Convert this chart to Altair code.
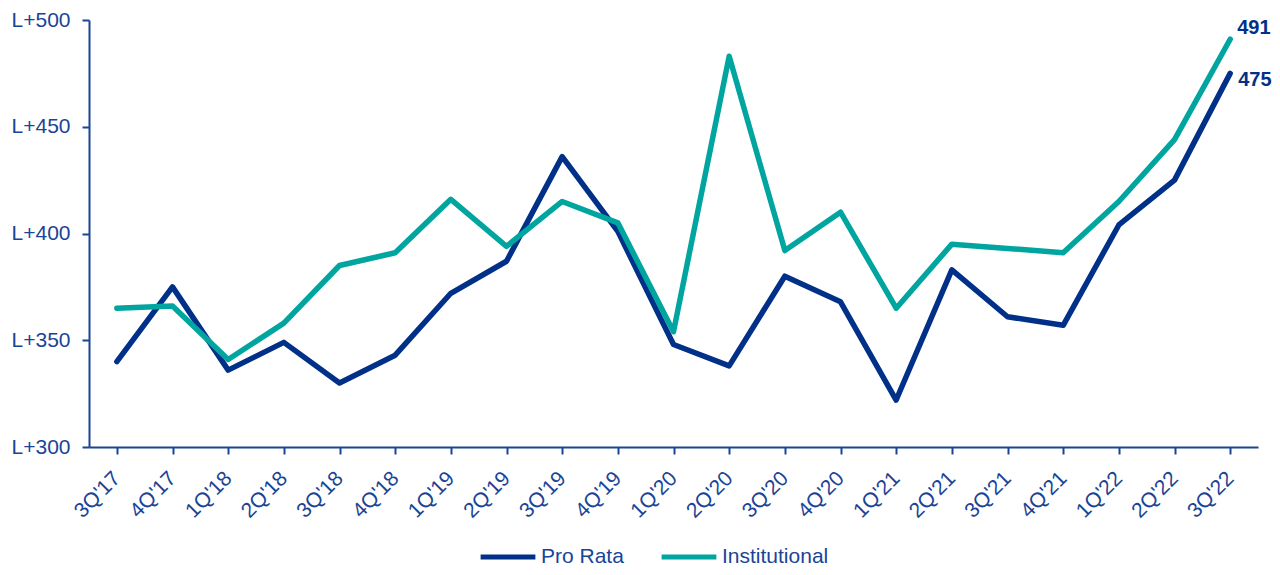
import altair as alt
import pandas as pd

quarters = ["3Q'17", "4Q'17", "1Q'18", "2Q'18", "3Q'18", "4Q'18", "1Q'19", "2Q'19",
            "3Q'19", "4Q'19", "1Q'20", "2Q'20", "3Q'20", "4Q'20", "1Q'21", "2Q'21",
            "3Q'21", "4Q'21", "1Q'22", "2Q'22", "3Q'22"]
pro_rata = [340, 375, 336, 349, 330, 343, 372, 387, 436, 401, 348, 338, 380, 368,
            322, 383, 361, 357, 404, 425, 475]
institutional = [365, 366, 341, 358, 385, 391, 416, 394, 415, 405, 354, 483, 392, 410,
                 365, 395, 393, 391, 415, 444, 491]
series = ["Pro Rata", "Institutional"]
colors = ["#003087", "#00A5A0"]

rows = []
for q, p, i in zip(quarters, pro_rata, institutional):
    rows.append({"q": q, "series": "Pro Rata", "v": p})
    rows.append({"q": q, "series": "Institutional", "v": i})
df = pd.DataFrame(rows)

txt = "#1A4496"
font = "Liberation Sans"

x = alt.X("q:N", sort=quarters, scale=alt.Scale(type="point", padding=0.5),
          axis=alt.Axis(title=None, labelAngle=-45, labelAlign="right", labelBaseline="middle",
                        labelFontSize=21, labelColor=txt, labelFont=font, labelPadding=21,
                        domainColor=txt, domainWidth=2, tickColor=txt, tickWidth=2, tickSize=7,
                        grid=False))
y = alt.Y("v:Q", scale=alt.Scale(domain=[300, 500], nice=False, zero=False),
          axis=alt.Axis(title=None, values=[300, 350, 400, 450, 500],
                        labelExpr="'L+' + datum.value", labelFontSize=21, labelColor=txt,
                        labelFont=font, labelPadding=12, domainColor=txt, domainWidth=2,
                        tickColor=txt, tickWidth=2, tickSize=7, grid=False))

lines = alt.Chart(df).mark_line(strokeWidth=5.5, strokeCap="round", strokeJoin="round").encode(
    x=x, y=y,
    color=alt.Color("series:N", sort=series,
                    scale=alt.Scale(domain=series, range=colors),
                    legend=alt.Legend(title=None, orient="none", legendX=389, legendY=507,
                                      direction="horizontal", symbolType="stroke",
                                      symbolSize=3000, symbolStrokeWidth=5,
                                      labelFontSize=21, labelColor=txt, labelFont=font,
                                      columnPadding=27, labelOffset=3)),
)

last = df[df["q"] == quarters[-1]]
lab_inst = alt.Chart(last[last["series"] == "Institutional"]).mark_text(
    align="left", baseline="middle", dx=7, dy=-11, fontSize=20, fontWeight="bold",
    font=font, color="#003087").encode(x=x, y=y, text="v:Q")
lab_pro = alt.Chart(last[last["series"] == "Pro Rata"]).mark_text(
    align="left", baseline="middle", dx=8, dy=7, fontSize=20, fontWeight="bold",
    font=font, color="#003087").encode(x=x, y=y, text="v:Q")

chart = (lines + lab_inst + lab_pro).properties(
    width=1169, height=427,
    autosize=alt.AutoSizeParams(type="none"),
    padding={"left": 81, "top": 12, "right": 14, "bottom": 120},
    background="white",
).configure_view(stroke=None)

chart.save("out.html", embed_options={"renderer": "svg", "actions": False})
